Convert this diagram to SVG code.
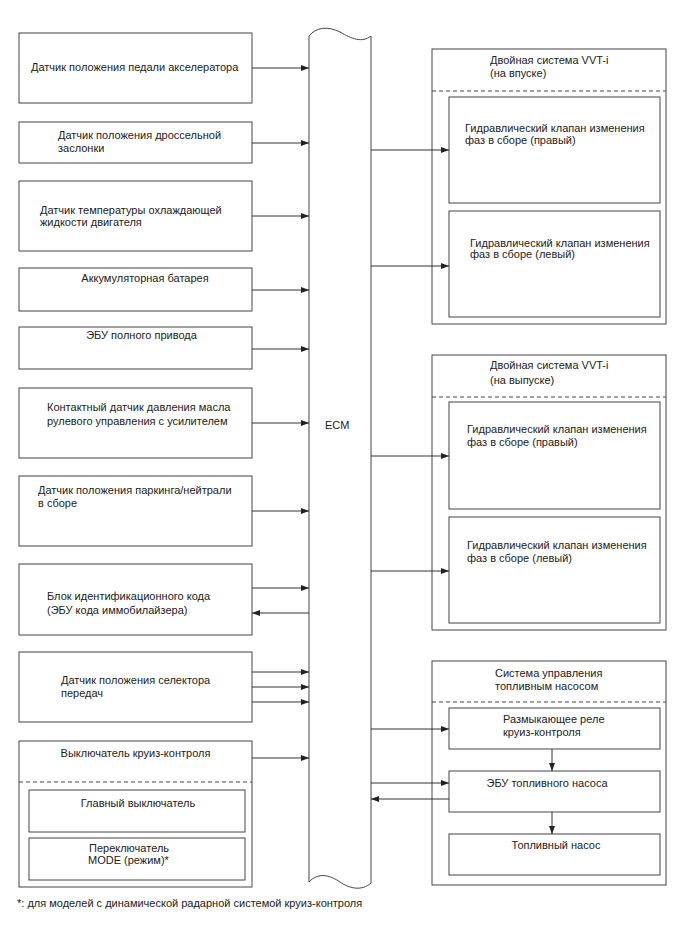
<svg xmlns="http://www.w3.org/2000/svg" width="688" height="949" viewBox="0 0 688 949">
<style>
text{font-family:"Liberation Sans",Arial,sans-serif;font-size:11px;fill:#222}
.box{fill:#fff;stroke:#444;stroke-width:1}
.dash{stroke:#444;stroke-width:1;stroke-dasharray:4,3;fill:none}
.c{stroke:#333;stroke-width:1;fill:none;marker-end:url(#ah)}
.m{text-anchor:middle}
</style>
<defs>
<marker id="ah" markerUnits="userSpaceOnUse" markerWidth="9" markerHeight="7" refX="8" refY="3" orient="auto">
<path d="M0,0 L8,3 L0,6 z" fill="#222"/>
</marker>
</defs>
<rect width="688" height="949" fill="#fff"/>

<g id="ecm">
<path class="box" d="M309,36 C316,27 328,26 340,32 C352,39 362,43 371,36 L371,883 C362,891 350,889 340,882 C330,875 318,872 309,882 Z"/>
<text x="325" y="429">ECM</text>
</g>

<g id="n1"><rect class="box" x="19" y="33" width="233" height="70"/><text x="31" y="71">Датчик положения педали акселератора</text></g>
<g id="n2"><rect class="box" x="19" y="122" width="233" height="41"/><text x="58" y="139">Датчик положения дроссельной</text><text x="58" y="152">заслонки</text></g>
<g id="n3"><rect class="box" x="19" y="181" width="233" height="70"/><text x="40" y="214">Датчик температуры охлаждающей</text><text x="40" y="226">жидкости двигателя</text></g>
<g id="n4"><rect class="box" x="19" y="268" width="233" height="43"/><text class="m" x="145" y="282">Аккумуляторная батарея</text></g>
<g id="n5"><rect class="box" x="19" y="327" width="233" height="42"/><text class="m" x="141.5" y="339">ЭБУ полного привода</text></g>
<g id="n6"><rect class="box" x="19" y="388" width="233" height="70"/><text x="47" y="411">Контактный датчик давления масла</text><text x="47" y="425">рулевого управления с усилителем</text></g>
<g id="n7"><rect class="box" x="19" y="476" width="233" height="70"/><text x="38" y="494">Датчик положения паркинга/нейтрали</text><text x="38" y="507">в сборе</text></g>
<g id="n8"><rect class="box" x="19" y="564" width="233" height="71"/><text x="47" y="600">Блок идентификационного кода</text><text x="47" y="614">(ЭБУ кода иммобилайзера)</text></g>
<g id="n9"><rect class="box" x="19" y="652" width="233" height="70"/><text x="61" y="684">Датчик положения селектора</text><text x="61" y="697">передач</text></g>
<g id="n10">
<rect class="box" x="19" y="741" width="233" height="146"/>
<text class="m" x="135.5" y="757">Выключатель круиз-контроля</text>
<line class="dash" x1="19" y1="782" x2="252" y2="782"/>
<g id="n10a"><rect class="box" x="29" y="790" width="216" height="42"/><text class="m" x="138" y="807">Главный выключатель</text></g>
<g id="n10b"><rect class="box" x="29" y="838" width="216" height="42"/><text x="89" y="852">Переключатель</text><text x="88" y="864">MODE (режим)*</text></g>
</g>

<g id="r1">
<rect class="box" x="432" y="49" width="234" height="275"/>
<text x="490" y="64">Двойная система VVT-i</text><text x="490" y="77">(на впуске)</text>
<line class="dash" x1="432" y1="91" x2="666" y2="91"/>
<g id="r1a"><rect class="box" x="449" y="97" width="211" height="106"/><text x="465" y="132">Гидравлический клапан изменения</text><text x="465" y="144">фаз в сборе (правый)</text></g>
<g id="r1b"><rect class="box" x="449" y="211" width="211" height="106"/><text x="470" y="247">Гидравлический клапан изменения</text><text x="470" y="258">фаз в сборе (левый)</text></g>
</g>

<g id="r2">
<rect class="box" x="432" y="355" width="234" height="275"/>
<text x="490" y="369">Двойная система VVT-i</text><text x="490" y="384">(на выпуске)</text>
<line class="dash" x1="432" y1="397" x2="666" y2="397"/>
<g id="r2a"><rect class="box" x="449" y="402" width="211" height="107"/><text x="467" y="433">Гидравлический клапан изменения</text><text x="467" y="446">фаз в сборе (правый)</text></g>
<g id="r2b"><rect class="box" x="449" y="517" width="211" height="106"/><text x="467" y="549">Гидравлический клапан изменения</text><text x="467" y="562">фаз в сборе (левый)</text></g>
</g>

<g id="r3">
<rect class="box" x="432" y="661" width="234" height="224"/>
<text x="495" y="677">Система управления</text><text x="495" y="690">топливным насосом</text>
<line class="dash" x1="432" y1="702" x2="666" y2="702"/>
<g id="r3a"><rect class="box" x="449" y="708" width="211" height="41"/><text x="503" y="723">Размыкающее реле</text><text x="503" y="736">круиз-контроля</text></g>
<g id="r3b"><rect class="box" x="449" y="771" width="211" height="41"/><text class="m" x="547" y="787">ЭБУ топливного насоса</text></g>
<g id="r3c"><rect class="box" x="449" y="834" width="211" height="41"/><text class="m" x="556" y="849">Топливный насос</text></g>
</g>

<g id="connectors">
<line class="c" x1="252" y1="68" x2="309" y2="68"/>
<line class="c" x1="252" y1="143" x2="309" y2="143"/>
<line class="c" x1="252" y1="216" x2="309" y2="216"/>
<line class="c" x1="252" y1="290" x2="309" y2="290"/>
<line class="c" x1="252" y1="349" x2="309" y2="349"/>
<line class="c" x1="252" y1="423" x2="309" y2="423"/>
<line class="c" x1="252" y1="511" x2="309" y2="511"/>
<line class="c" x1="252" y1="588" x2="309" y2="588"/>
<line class="c" x1="309" y1="613" x2="252" y2="613"/>
<line class="c" x1="252" y1="672" x2="309" y2="672"/>
<line class="c" x1="252" y1="687" x2="309" y2="687"/>
<line class="c" x1="252" y1="702" x2="309" y2="702"/>
<line class="c" x1="252" y1="758" x2="309" y2="758"/>
<line class="c" x1="371" y1="150" x2="449" y2="150"/>
<line class="c" x1="371" y1="266" x2="449" y2="266"/>
<line class="c" x1="371" y1="456" x2="449" y2="456"/>
<line class="c" x1="371" y1="571" x2="449" y2="571"/>
<line class="c" x1="371" y1="729" x2="449" y2="729"/>
<line class="c" x1="371" y1="783" x2="449" y2="783"/>
<line class="c" x1="449" y1="799" x2="371" y2="799"/>
<line class="c" x1="552" y1="749" x2="552" y2="771"/>
<line class="c" x1="552" y1="812" x2="552" y2="834"/>
</g>

<text x="17" y="907">*: для моделей с динамической радарной системой круиз-контроля</text>
</svg>
